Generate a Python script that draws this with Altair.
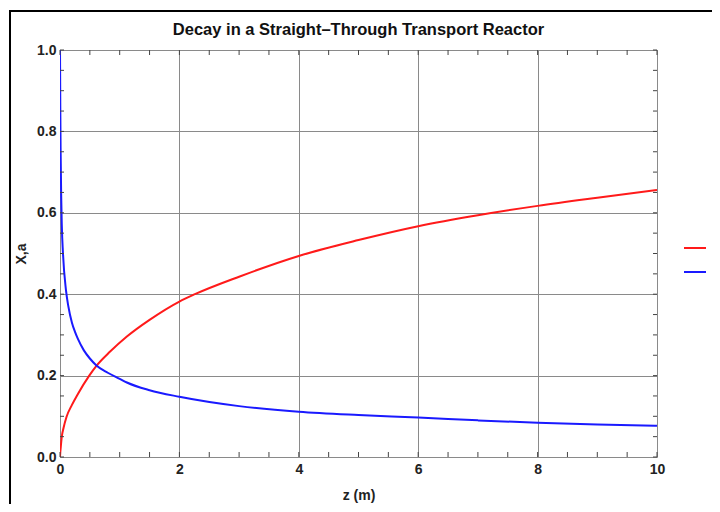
import altair as alt
import pandas as pd

# ---- data ----
Z_X = [0, 0.005, 0.01, 0.03, 0.06, 0.11, 0.2, 0.3, 0.49, 0.61, 0.84, 1.12, 1.5, 2.0,
       2.26, 3.0, 4.0, 5.0, 6.0, 7.0, 8.0, 9.0, 10.0]
X_CONV = [0.0, 0.012, 0.02, 0.05, 0.072, 0.099, 0.128, 0.155, 0.2, 0.224, 0.259, 0.296,
          0.337, 0.382, 0.4, 0.443, 0.494, 0.533, 0.567, 0.594, 0.617, 0.637, 0.656]
Z_A = [0, 0.005, 0.01, 0.02, 0.03, 0.05, 0.1, 0.14, 0.2, 0.25, 0.3, 0.4, 0.5, 0.61, 0.8,
       1.0, 1.12, 1.5, 2.0, 3.0, 4.0, 5.0, 6.0, 7.0, 8.0, 9.0, 10.0]
A_ACT = [1.0, 0.86, 0.76, 0.64, 0.57, 0.5, 0.41, 0.37, 0.33, 0.308, 0.29, 0.262, 0.242,
         0.225, 0.207, 0.192, 0.183, 0.164, 0.148, 0.125, 0.111, 0.103, 0.097, 0.09,
         0.084, 0.08, 0.077]
SERIES = ["X", "a"]
COLORS = ["#ff1a1a", "#1a1aff"]

X_MAJOR = [0, 2, 4, 6, 8, 10]
X_MINOR = [0, 0.5, 1, 1.5, 2, 2.5, 3, 3.5, 4, 4.5, 5, 5.5, 6, 6.5, 7, 7.5, 8, 8.5, 9, 9.5, 10]
Y_MAJOR = [0.0, 0.2, 0.4, 0.6, 0.8, 1.0]
Y_MINOR = [0.0, 0.05, 0.1, 0.15, 0.2, 0.25, 0.3, 0.35, 0.4, 0.45, 0.5, 0.55, 0.6, 0.65,
           0.7, 0.75, 0.8, 0.85, 0.9, 0.95, 1.0]

TITLE = "Decay in a Straight\u2013Through Transport Reactor"
X_TITLE = "z (m)"
Y_TITLE = "X,a"
FONT = "Liberation Sans Narrow, Arial Narrow, Liberation Sans, sans-serif"

W, H = 597, 407

df = pd.concat([
    pd.DataFrame({"z": Z_X, "v": X_CONV, "s": SERIES[0], "o": range(len(Z_X))}),
    pd.DataFrame({"z": Z_A, "v": A_ACT, "s": SERIES[1], "o": range(len(Z_A))}),
])
xdf = pd.DataFrame({"t": X_MINOR})
ydf = pd.DataFrame({"t": Y_MINOR})
one = pd.DataFrame({"title": [TITLE]})
frame_df = pd.DataFrame({"k": ["left", "top"]})

xs = alt.Scale(domain=[0, 10], nice=False, zero=False)
ys = alt.Scale(domain=[0, 1], nice=False, zero=False)

xaxis = alt.Axis(values=X_MAJOR, format="d", ticks=False, domain=False, labelFlush=False,
                 grid=True, gridColor="#8a8a8a", gridWidth=1,
                 labelFont=FONT, labelFontSize=14, labelFontWeight="bold",
                 labelColor="#222", labelPadding=5,
                 titleFont=FONT, titleFontSize=14, titleFontWeight="bold",
                 titleColor="#222", titlePadding=12)
yaxis = alt.Axis(values=Y_MAJOR, format=".1f", ticks=False, domain=False, labelFlush=False,
                 grid=True, gridColor="#8a8a8a", gridWidth=1,
                 labelFont=FONT, labelFontSize=14, labelFontWeight="bold",
                 labelColor="#222", labelPadding=4,
                 titleFont=FONT, titleFontSize=14, titleFontWeight="bold",
                 titleColor="#222", titlePadding=8)

lines = alt.Chart(df).mark_line(strokeWidth=2, interpolate="monotone", clip=True).encode(
    x=alt.X("z:Q", scale=xs, title=X_TITLE, axis=xaxis),
    y=alt.Y("v:Q", scale=ys, title=Y_TITLE, axis=yaxis),
    color=alt.Color("s:N", scale=alt.Scale(domain=SERIES, range=COLORS),
                    legend=alt.Legend(title=None, orient="none", legendX=623, legendY=186,
                                      symbolType="stroke", symbolSize=484,
                                      symbolStrokeWidth=2, rowPadding=5, padding=0,
                                      labelFont=FONT, labelFontSize=14,
                                      labelColor="#222", labelOffset=6)),
    detail="s:N",
    order="o:Q",
)

left_t = alt.Chart(ydf).mark_rule(color="#444").encode(
    y=alt.Y("t:Q", scale=ys, title=Y_TITLE, axis=yaxis), x=alt.value(0), x2=alt.value(4))
right_t = alt.Chart(ydf).mark_rule(color="#444").encode(
    y=alt.Y("t:Q", scale=ys, title=Y_TITLE, axis=yaxis), x=alt.value(W - 4), x2=alt.value(W))
top_t = alt.Chart(xdf).mark_rule(color="#444").encode(
    x=alt.X("t:Q", scale=xs, title=X_TITLE, axis=xaxis), y=alt.value(0), y2=alt.value(5))
bot_t = alt.Chart(xdf).mark_rule(color="#444").encode(
    x=alt.X("t:Q", scale=xs, title=X_TITLE, axis=xaxis), y=alt.value(H - 5), y2=alt.value(H))

title_txt = alt.Chart(one).mark_text(font=FONT, fontSize=16.5, fontWeight="bold",
                                     color="#111", align="center", baseline="middle").encode(
    text="title:N", x=alt.value(W / 2), y=alt.value(-20))

frame_left = alt.Chart(frame_df).transform_filter(alt.datum.k == "left").mark_rule(
    color="#000", strokeWidth=2).encode(
    x=alt.value(-50), y=alt.value(-40), y2=alt.value(H + 60))
frame_top = alt.Chart(frame_df).transform_filter(alt.datum.k == "top").mark_rule(
    color="#000", strokeWidth=2).encode(
    x=alt.value(-51), x2=alt.value(W + 60), y=alt.value(-39))

chart = alt.layer(lines, left_t, right_t, top_t, bot_t, title_txt, frame_left,
                  frame_top).properties(
    width=W, height=H,
    autosize=alt.AutoSizeParams(type="none"),
    padding={"left": 52, "top": 42, "right": 55, "bottom": 47},
).configure_view(stroke="#444", strokeWidth=1.3).configure(background="white")

chart.save("out.html", embed_options={"renderer": "svg", "actions": False})
